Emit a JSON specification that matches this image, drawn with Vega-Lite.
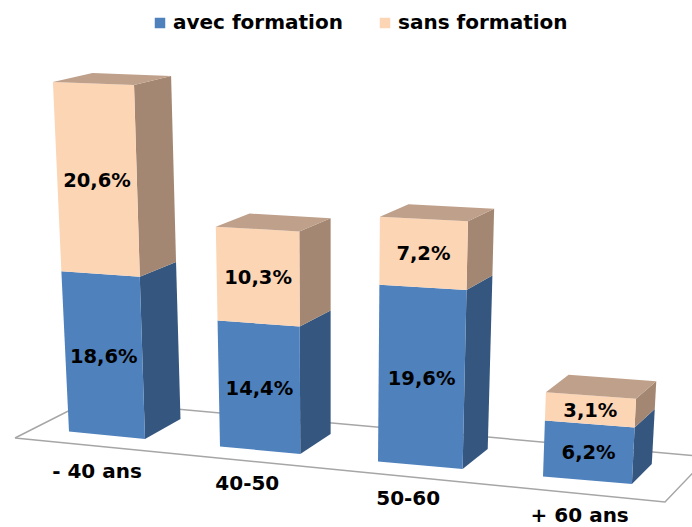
{"$schema":"https://vega.github.io/schema/vega-lite/v6.json","width":692,"height":527,"padding":0,"autosize":{"type":"none"},"background":"white","view":{"stroke":null},"config":{"font":"DejaVu Sans"},"data":{"values":[{"age":"- 40 ans","serie":"avec formation","valeur":18.6},{"age":"- 40 ans","serie":"sans formation","valeur":20.6},{"age":"40-50","serie":"avec formation","valeur":14.4},{"age":"40-50","serie":"sans formation","valeur":10.3},{"age":"50-60","serie":"avec formation","valeur":19.6},{"age":"50-60","serie":"sans formation","valeur":7.2},{"age":"+ 60 ans","serie":"avec formation","valeur":6.2},{"age":"+ 60 ans","serie":"sans formation","valeur":3.1}]},"transform":[{"calculate":"indexof(['- 40 ans','40-50','50-60','+ 60 ans'],datum.age)","as":"i"},{"stack":"valeur","groupby":["age"],"sort":[{"field":"serie","order":"ascending"}],"as":["v0","v1"]}],"layer":[{"data":{"values":[{"coin":0},{"coin":1},{"coin":2},{"coin":3},{"coin":4}]},"transform":[{"calculate":"[15,88,708,665,15][datum.coin]","as":"X"},{"calculate":"[438,401,457,502,438][datum.coin]","as":"Y"}],"mark":{"type":"line","stroke":"#a6a6a6","strokeWidth":1.5,"clip":true},"encoding":{"x":{"field":"X","type":"quantitative","scale":{"domain":[0,692],"nice":false,"zero":false},"axis":null},"y":{"field":"Y","type":"quantitative","scale":{"domain":[0,527],"reverse":true,"nice":false,"zero":false},"axis":null},"order":{"field":"coin"}}},{"transform":[{"calculate":"['cote','face','dessus']","as":"plan"},{"flatten":["plan"]},{"filter":"datum.plan!='dessus'||datum.serie=='sans formation'"},{"calculate":"[0,1,2,3]","as":"c"},{"flatten":["c"]},{"calculate":"datum.plan=='cote'?1:((datum.c==1||datum.c==2)?1:0)","as":"u"},{"calculate":"datum.plan=='face'?0:(datum.plan=='cote'?((datum.c==1||datum.c==2)?1:0):(datum.c>=2?1:0))","as":"d"},{"calculate":"datum.plan=='dessus'?datum.v1:(datum.c<2?datum.v0:datum.v1)","as":"v"},{"calculate":"69+147.5*datum.i+3.5*datum.i*datum.i+datum.u*(76+4.3*datum.i)+datum.v*(-0.41+0.24*datum.i+0.13*datum.u)+datum.d*(35.5-5.2*datum.i+0.04*datum.v+(1-datum.u)*2.5)","as":"X"},{"calculate":"431.5+15*datum.i+datum.u*(7.5-0.11*datum.v)-datum.v*(8.33+0.2*datum.i+0.015*datum.v)-datum.d*(20-0.28*datum.v)","as":"Y"},{"calculate":"datum.plan=='face'?datum.serie:datum.serie+' '+datum.plan","as":"teinte"}],"mark":{"type":"line","filled":true,"strokeWidth":0},"encoding":{"x":{"field":"X","type":"quantitative","scale":{"domain":[0,692],"nice":false,"zero":false},"axis":null},"y":{"field":"Y","type":"quantitative","scale":{"domain":[0,527],"reverse":true,"nice":false,"zero":false},"axis":null},"order":{"field":"c"},"detail":{"field":"age"},"color":{"field":"teinte","type":"nominal","scale":{"domain":["avec formation","sans formation","avec formation cote","sans formation cote","sans formation dessus"],"range":["#4f81bd","#fcd5b5","#34567f","#a38772","#bfa08a"]},"legend":{"values":["avec formation","sans formation"],"title":null,"orient":"none","legendX":150,"legendY":13,"direction":"horizontal","symbolType":"square","symbolSize":110,"symbolStrokeWidth":0,"labelFontSize":20,"labelFontWeight":"bold","labelFont":"DejaVu Sans","labelColor":"#000000","labelLimit":0,"columnPadding":32,"labelOffset":3}}}},{"transform":[{"calculate":"(datum.v0+datum.v1)/2","as":"m"},{"calculate":"69+147.5*datum.i+3.5*datum.i*datum.i+0.5*(76+4.3*datum.i)+datum.m*(-0.345+0.24*datum.i)","as":"X"},{"calculate":"432.5+15*datum.i+0.5*(7.5-0.11*datum.m)-datum.m*(8.33+0.2*datum.i+0.015*datum.m)","as":"Y"},{"calculate":"replace(format(datum.valeur,'.1f'),'.',',')+'%'","as":"etiquette"}],"mark":{"type":"text","font":"DejaVu Sans","fontWeight":"bold","fontSize":19.5,"color":"#000000","align":"center","baseline":"middle"},"encoding":{"x":{"field":"X","type":"quantitative","scale":{"domain":[0,692],"nice":false,"zero":false},"axis":null},"y":{"field":"Y","type":"quantitative","scale":{"domain":[0,527],"reverse":true,"nice":false,"zero":false},"axis":null},"text":{"field":"etiquette"}}},{"transform":[{"filter":"datum.serie=='avec formation'"},{"calculate":"97+145*datum.i+5.3*datum.i*datum.i","as":"X"},{"calculate":"471.5+12*datum.i+0.9*datum.i*datum.i","as":"Y"}],"mark":{"type":"text","font":"DejaVu Sans","fontWeight":"bold","fontSize":20,"color":"#000000","align":"center","baseline":"middle"},"encoding":{"x":{"field":"X","type":"quantitative","scale":{"domain":[0,692],"nice":false,"zero":false},"axis":null},"y":{"field":"Y","type":"quantitative","scale":{"domain":[0,527],"reverse":true,"nice":false,"zero":false},"axis":null},"text":{"field":"age"}}}]}
